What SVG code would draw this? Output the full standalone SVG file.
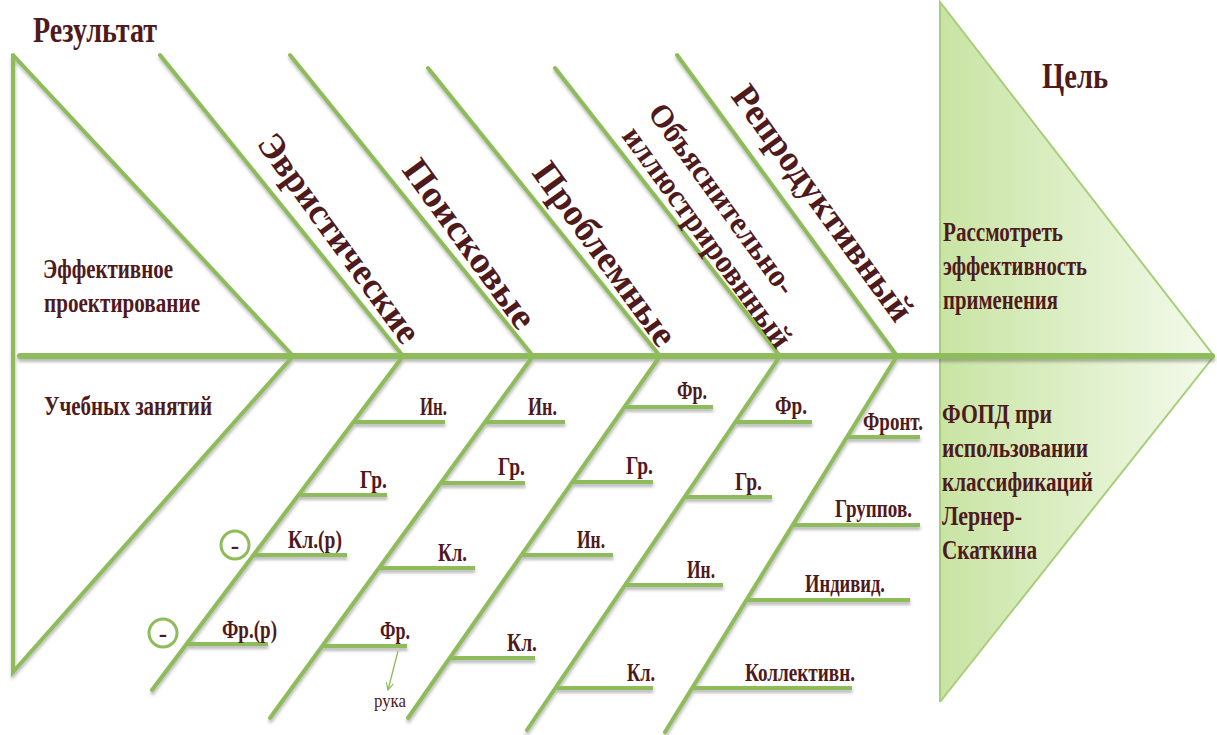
<svg xmlns="http://www.w3.org/2000/svg" width="1217" height="735" viewBox="0 0 1217 735">
  <defs>
    <linearGradient id="headFill" x1="0" y1="0" x2="1" y2="0">
      <stop offset="0" stop-color="#c8e4a3"/>
      <stop offset="1" stop-color="#f4faec"/>
    </linearGradient>
    <filter id="lineShadow" x="-5%" y="-5%" width="110%" height="120%">
      <feDropShadow dx="0.5" dy="3" stdDeviation="1.4" flood-color="#3a3a3a" flood-opacity="0.35"/>
    </filter>
    <marker id="openArrow" viewBox="0 0 10 10" refX="9" refY="5" markerWidth="9" markerHeight="9" orient="auto" markerUnits="userSpaceOnUse">
      <path d="M1,1 L9,5 L1,9" fill="none" stroke="#8fbc5a" stroke-width="1.3"/>
    </marker>
    <style>
      .bone { stroke: #8fbc5a; stroke-width: 4; stroke-linecap: round; fill: none; }
      .spine { stroke: #8fbc5a; stroke-width: 6; stroke-linecap: round; }
      .sub { stroke: #8fbc5a; stroke-width: 4; stroke-linecap: butt; }
      .edge { stroke: #a7cf79; stroke-width: 2; fill: none; }
      text { font-family: "Liberation Serif", "Times New Roman", serif; fill: #4f1a1c; }
      .txt { font-weight: bold; }
      .title { font-size: 36px; }
      .cat { font-size: 37px; }
      .cat2 { font-size: 32px; }
      .body { font-size: 28px; }
      .lbl { font-size: 25px; }
      .note { font-size: 19px; }
      .mark { fill: #ffffff; stroke: #8fbc5a; stroke-width: 3; }
    </style>
  </defs>

  <rect width="1217" height="735" fill="#ffffff"/>

  <!-- head: goal triangle -->
  <g id="goal">
    <polygon points="940,2 1214,356 940,702" fill="url(#headFill)"/>
    <polyline class="edge" points="940,702 940,2 1214,356 940,702"/>
    <text class="txt title" x="1042" y="88" textLength="66" lengthAdjust="spacingAndGlyphs">Цель</text>
    <text class="txt body" x="943" y="241" textLength="120" lengthAdjust="spacingAndGlyphs">Рассмотреть</text>
    <text class="txt body" x="943" y="275" textLength="144" lengthAdjust="spacingAndGlyphs">эффективность</text>
    <text class="txt body" x="943" y="309" textLength="115" lengthAdjust="spacingAndGlyphs">применения</text>
    <text class="txt body" x="942" y="423" textLength="110" lengthAdjust="spacingAndGlyphs">ФОПД при</text>
    <text class="txt body" x="942" y="457" textLength="146" lengthAdjust="spacingAndGlyphs">использовании</text>
    <text class="txt body" x="942" y="491" textLength="151" lengthAdjust="spacingAndGlyphs">классификаций</text>
    <text class="txt body" x="942" y="525" textLength="80" lengthAdjust="spacingAndGlyphs">Лернер-</text>
    <text class="txt body" x="942" y="559" textLength="95" lengthAdjust="spacingAndGlyphs">Скаткина</text>
  </g>

  <!-- connectors: spine, tail, bones and sub-branches -->
  <g id="connectors" filter="url(#lineShadow)">
    <line class="spine" x1="20" y1="356" x2="1212" y2="356"/>
    <!-- tail -->
    <polyline class="bone" points="13,55 293,356 13,672 13,55"/>
    <!-- upper bones -->
    <line class="bone" x1="160" y1="55" x2="403" y2="356"/>
    <line class="bone" x1="290" y1="55" x2="533" y2="356"/>
    <line class="bone" x1="428" y1="68" x2="660" y2="356"/>
    <line class="bone" x1="555" y1="68" x2="780" y2="356"/>
    <line class="bone" x1="677" y1="55" x2="897" y2="356"/>
    <!-- lower bones -->
    <line class="bone" x1="403" y1="356" x2="152" y2="690"/>
    <line class="bone" x1="533" y1="356" x2="270" y2="718"/>
    <line class="bone" x1="660" y1="356" x2="408" y2="718"/>
    <line class="bone" x1="780" y1="356" x2="527" y2="730"/>
    <line class="bone" x1="897" y1="356" x2="665" y2="732"/>
    <!-- sub-branches -->
    <line class="sub" x1="353" y1="422" x2="445" y2="422"/>
    <line class="sub" x1="298" y1="495" x2="387" y2="495"/>
    <line class="sub" x1="253" y1="555" x2="347" y2="555"/>
    <line class="sub" x1="186" y1="644" x2="268" y2="644"/>

    <line class="sub" x1="485" y1="422" x2="565" y2="422"/>
    <line class="sub" x1="440" y1="483" x2="525" y2="483"/>
    <line class="sub" x1="379" y1="568" x2="475" y2="568"/>
    <line class="sub" x1="322" y1="646" x2="407" y2="646"/>

    <line class="sub" x1="624" y1="407" x2="713" y2="407"/>
    <line class="sub" x1="572" y1="482" x2="653" y2="482"/>
    <line class="sub" x1="521" y1="555" x2="613" y2="555"/>
    <line class="sub" x1="450" y1="658" x2="535" y2="658"/>

    <line class="sub" x1="735" y1="422" x2="812" y2="422"/>
    <line class="sub" x1="684" y1="497" x2="772" y2="497"/>
    <line class="sub" x1="625" y1="585" x2="723" y2="585"/>
    <line class="sub" x1="555" y1="688" x2="653" y2="688"/>

    <line class="sub" x1="847" y1="437" x2="920" y2="437"/>
    <line class="sub" x1="792" y1="525" x2="920" y2="525"/>
    <line class="sub" x1="746" y1="600" x2="910" y2="600"/>
    <line class="sub" x1="692" y1="688" x2="852" y2="688"/>
  </g>

  <!-- tail: result -->
  <g id="result">
    <text class="txt title" x="33" y="42" textLength="124" lengthAdjust="spacingAndGlyphs">Результат</text>
    <text class="txt body" x="43" y="278" textLength="130" lengthAdjust="spacingAndGlyphs">Эффективное</text>
    <text class="txt body" x="44" y="312" textLength="156" lengthAdjust="spacingAndGlyphs">проектирование</text>
    <text class="txt body" x="44" y="415" textLength="168" lengthAdjust="spacingAndGlyphs">Учебных занятий</text>
  </g>

  <!-- heuristic methods -->
  <g id="heuristic">
    <text class="txt cat" transform="translate(256,144) rotate(54)" textLength="250" lengthAdjust="spacingAndGlyphs">Эвристические</text>
    <text class="txt lbl" x="420" y="415" textLength="27" lengthAdjust="spacingAndGlyphs">Ин.</text>
    <text class="txt lbl" x="360" y="488" textLength="27" lengthAdjust="spacingAndGlyphs">Гр.</text>
    <text class="txt lbl" x="288" y="548" textLength="54" lengthAdjust="spacingAndGlyphs">Кл.(р)</text>
    <text class="txt lbl" x="222" y="638" textLength="55" lengthAdjust="spacingAndGlyphs">Фр.(р)</text>
    <circle class="mark" cx="235" cy="545" r="14"/>
    <text class="txt lbl" x="235" y="554" text-anchor="middle">-</text>
    <circle class="mark" cx="163" cy="633" r="14"/>
    <text class="txt lbl" x="163" y="642" text-anchor="middle">-</text>
  </g>

  <!-- search methods -->
  <g id="search">
    <text class="txt cat" transform="translate(401,170) rotate(54)" textLength="200" lengthAdjust="spacingAndGlyphs">Поисковые</text>
    <text class="txt lbl" x="528" y="415" textLength="29" lengthAdjust="spacingAndGlyphs">Ин.</text>
    <text class="txt lbl" x="498" y="475" textLength="27" lengthAdjust="spacingAndGlyphs">Гр.</text>
    <text class="txt lbl" x="438" y="561" textLength="29" lengthAdjust="spacingAndGlyphs">Кл.</text>
    <text class="txt lbl" x="380" y="639" textLength="30" lengthAdjust="spacingAndGlyphs">Фр.</text>
    <line x1="398" y1="651" x2="388" y2="690" stroke="#8fbc5a" stroke-width="1.3" marker-end="url(#openArrow)"/>
    <text class="note" x="374" y="707" textLength="32" lengthAdjust="spacingAndGlyphs">рука</text>
  </g>

  <!-- problem methods -->
  <g id="problem">
    <text class="txt cat" transform="translate(531,173) rotate(54)" textLength="218" lengthAdjust="spacingAndGlyphs">Проблемные</text>
    <text class="txt lbl" x="677" y="399" textLength="30" lengthAdjust="spacingAndGlyphs">Фр.</text>
    <text class="txt lbl" x="626" y="474" textLength="27" lengthAdjust="spacingAndGlyphs">Гр.</text>
    <text class="txt lbl" x="577" y="548" textLength="28" lengthAdjust="spacingAndGlyphs">Ин.</text>
    <text class="txt lbl" x="507" y="651" textLength="30" lengthAdjust="spacingAndGlyphs">Кл.</text>
  </g>

  <!-- explanatory-illustrative methods -->
  <g id="explanatory">
    <text class="txt cat2" transform="translate(647,113) rotate(54)" textLength="228" lengthAdjust="spacingAndGlyphs">Объяснительно-</text>
    <text class="txt cat2" transform="translate(621,136) rotate(54)" textLength="265" lengthAdjust="spacingAndGlyphs">иллюстрировнный</text>
    <text class="txt lbl" x="775" y="414" textLength="32" lengthAdjust="spacingAndGlyphs">Фр.</text>
    <text class="txt lbl" x="735" y="490" textLength="27" lengthAdjust="spacingAndGlyphs">Гр.</text>
    <text class="txt lbl" x="687" y="578" textLength="28" lengthAdjust="spacingAndGlyphs">Ин.</text>
    <text class="txt lbl" x="627" y="681" textLength="28" lengthAdjust="spacingAndGlyphs">Кл.</text>
  </g>

  <!-- reproductive methods -->
  <g id="reproductive">
    <text class="txt cat" transform="translate(730,96) rotate(54)" textLength="282" lengthAdjust="spacingAndGlyphs">Репродуктивный</text>
    <text class="txt lbl" x="863" y="430" textLength="60" lengthAdjust="spacingAndGlyphs">Фронт.</text>
    <text class="txt lbl" x="835" y="517" textLength="77" lengthAdjust="spacingAndGlyphs">Группов.</text>
    <text class="txt lbl" x="805" y="592" textLength="80" lengthAdjust="spacingAndGlyphs">Индивид.</text>
    <text class="txt lbl" x="745" y="681" textLength="110" lengthAdjust="spacingAndGlyphs">Коллективн.</text>
  </g>
</svg>
